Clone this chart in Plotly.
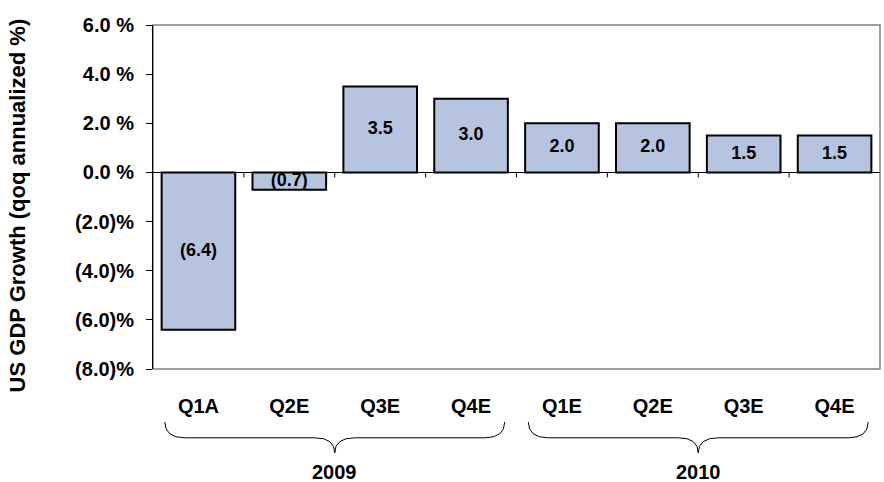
import plotly.graph_objects as go

categories = ["Q1A", "Q2E", "Q3E", "Q4E", "Q1E", "Q2E", "Q3E", "Q4E"]
values = [-6.4, -0.7, 3.5, 3.0, 2.0, 2.0, 1.5, 1.5]
years = ["2009", "2010"]
year_groups = [(0, 3), (4, 7)]
y_ticks = [-8, -6, -4, -2, 0, 2, 4, 6]

def fmt_pct(v):
    return f"({abs(v):.1f})%" if v < 0 else f"{v:.1f} %"

def fmt_lbl(v):
    return f"({abs(v):.1f})" if v < 0 else f"{v:.1f}"

FONT = "Liberation Sans, Arial, sans-serif"
xs = list(range(len(categories)))

fig = go.Figure()
fig.add_trace(go.Bar(
    x=xs, y=values, width=0.81,
    marker=dict(color="#B7C4E0", line=dict(color="black", width=2)),
    hoverinfo="skip", showlegend=False,
))
fig.add_trace(go.Scatter(
    x=xs, y=[v / 2 for v in values], mode="text",
    text=[fmt_lbl(v) for v in values],
    textfont=dict(family=FONT, size=18, color="black", weight="bold"),
    hoverinfo="skip", showlegend=False,
))

shapes = []
# plot frame (gray)
shapes.append(dict(type="rect", xref="paper", yref="paper", x0=0, x1=1, y0=0, y1=1,
                   line=dict(color="#808080", width=1.5), layer="below"))
# category tick marks on zero line
for i in range(len(categories) - 1):
    shapes.append(dict(type="line", xref="x", yref="y", ysizemode="pixel", yanchor=0,
                       x0=i + 0.5, x1=i + 0.5, y0=0, y1=-5,
                       line=dict(color="black", width=1)))
# braces
top, mid, bot = -0.154, -0.20, -0.244
for (a, b) in year_groups:
    x0 = a - 0.37
    x1 = b + 0.37
    xm = (a + b) / 2
    dx = 0.22
    path = (f"M {x0},{top} Q {x0},{mid} {x0+dx},{mid} L {xm-dx},{mid} "
            f"Q {xm},{mid} {xm},{bot} Q {xm},{mid} {xm+dx},{mid} "
            f"L {x1-dx},{mid} Q {x1},{mid} {x1},{top}")
    shapes.append(dict(type="path", xref="x", yref="paper", path=path,
                       line=dict(color="black", width=1)))

annotations = []
for yr, (a, b) in zip(years, year_groups):
    annotations.append(dict(text=f"<b>{yr}</b>", x=(a + b) / 2, xref="x",
                            y=-0.298, yref="paper", showarrow=False,
                            xanchor="center", yanchor="middle",
                            font=dict(family=FONT, size=20, color="black")))
annotations.append(dict(text="<b>US GDP Growth (qoq annualized %)</b>",
                        x=-0.186, xref="paper", y=0.475, yref="paper",
                        textangle=-90, showarrow=False,
                        xanchor="center", yanchor="middle",
                        font=dict(family=FONT, size=22, color="black")))

fig.update_layout(
    width=884, height=482,
    margin=dict(l=153, r=4, t=25, b=113),
    paper_bgcolor="white", plot_bgcolor="white",
    shapes=shapes, annotations=annotations,
    xaxis=dict(range=[-0.5, len(categories) - 0.5], tickvals=xs, ticktext=categories,
               showgrid=False, zeroline=False, showline=False, ticks="",
               ticklabelstandoff=23,
               tickfont=dict(family=FONT, size=20, color="black", weight="bold")),
    yaxis=dict(range=[-8, 6], tickvals=y_ticks, ticktext=[fmt_pct(v) for v in y_ticks],
               showgrid=False, zeroline=True, zerolinecolor="black", zerolinewidth=1,
               showline=True, linecolor="black", linewidth=1,
               ticks="outside", ticklen=6, tickcolor="black",
               ticklabelstandoff=8,
               tickfont=dict(family=FONT, size=20, color="black", weight="bold")),
    bargap=0.19,
)

fig.write_html("out.html", config={"displayModeBar": False},
               post_script="document.body.style.margin='0';")
